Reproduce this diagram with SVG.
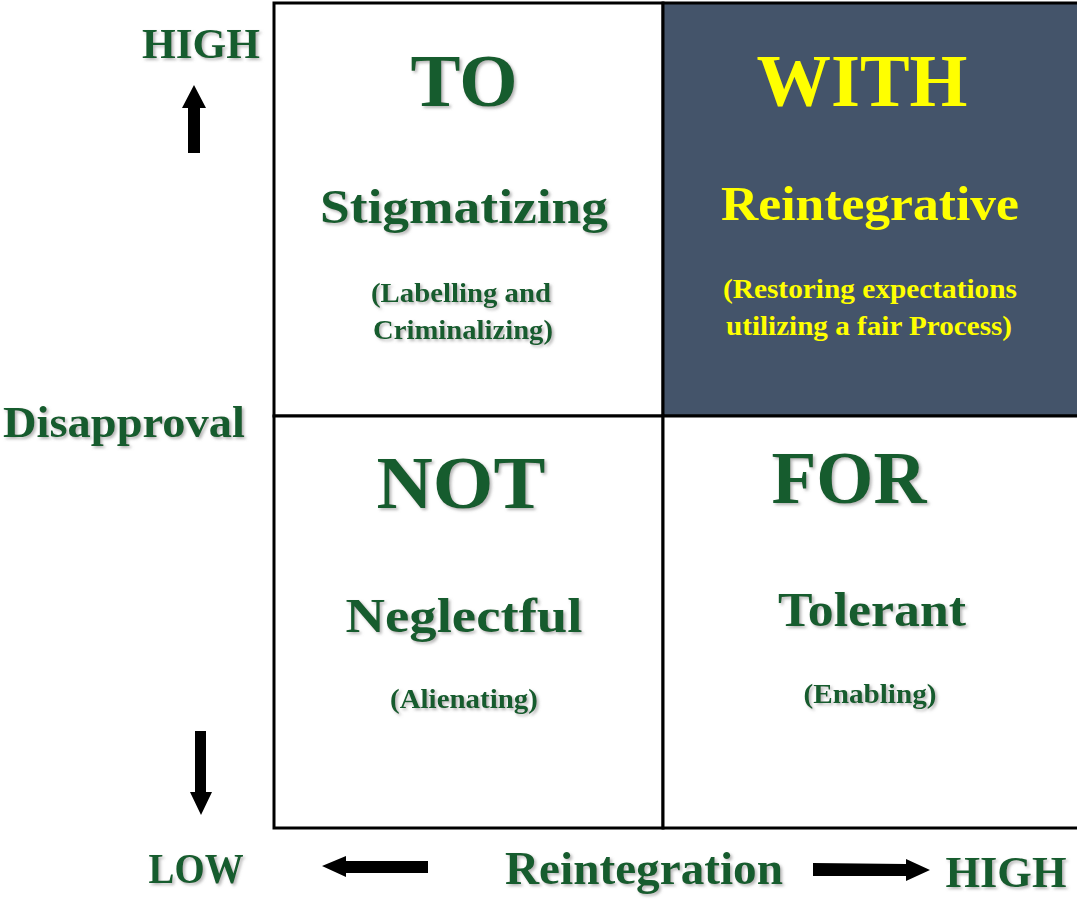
<svg xmlns="http://www.w3.org/2000/svg" width="1077" height="901" viewBox="0 0 1077 901">
<defs>
<filter id="sh" x="-10%" y="-20%" width="120%" height="150%">
<feDropShadow dx="2" dy="2" stdDeviation="1.5" flood-color="#7a7a7a" flood-opacity="0.55"/>
</filter>
<style>
text{font-family:"Liberation Serif","Times New Roman",serif;font-weight:bold;text-anchor:middle}
.g{fill:#175c2e;filter:url(#sh)}
.y{fill:#ffff00}
.cell{stroke:#000;stroke-width:3}
.arrow{fill:#000}
</style>
</defs>
<rect width="1077" height="901" fill="#fff"/>
<g id="cell-to">
<rect class="cell" x="274" y="3" width="389" height="413" fill="#fff"/>
<text class="g" x="464" y="106" font-size="74" textLength="107" lengthAdjust="spacingAndGlyphs">TO</text>
<text class="g" x="464" y="223" font-size="49" textLength="288" lengthAdjust="spacingAndGlyphs">Stigmatizing</text>
<text class="g" x="461" y="302" font-size="27" textLength="180" lengthAdjust="spacingAndGlyphs">(Labelling and</text>
<text class="g" x="463" y="339" font-size="27" textLength="180" lengthAdjust="spacingAndGlyphs">Criminalizing)</text>
</g>
<g id="cell-with">
<rect class="cell" x="663" y="3" width="416" height="413" fill="#44546a"/>
<text class="y" x="862" y="106" font-size="74" textLength="211" lengthAdjust="spacingAndGlyphs">WITH</text>
<text class="y" x="870" y="220" font-size="49" textLength="298" lengthAdjust="spacingAndGlyphs">Reintegrative</text>
<text class="y" x="870" y="298" font-size="27" textLength="294" lengthAdjust="spacingAndGlyphs">(Restoring expectations</text>
<text class="y" x="869" y="335" font-size="27" textLength="286" lengthAdjust="spacingAndGlyphs">utilizing a fair Process)</text>
</g>
<g id="cell-not">
<rect class="cell" x="274" y="416" width="389" height="412" fill="#fff"/>
<text class="g" x="461" y="508" font-size="74" textLength="169" lengthAdjust="spacingAndGlyphs">NOT</text>
<text class="g" x="464" y="632" font-size="49" textLength="237" lengthAdjust="spacingAndGlyphs">Neglectful</text>
<text class="g" x="464" y="708" font-size="27" textLength="148" lengthAdjust="spacingAndGlyphs">(Alienating)</text>
</g>
<g id="cell-for">
<rect class="cell" x="663" y="416" width="416" height="412" fill="#fff"/>
<text class="g" x="849" y="503" font-size="74" textLength="155" lengthAdjust="spacingAndGlyphs">FOR</text>
<text class="g" x="872" y="626" font-size="49" textLength="188" lengthAdjust="spacingAndGlyphs">Tolerant</text>
<text class="g" x="870" y="703" font-size="27" textLength="133" lengthAdjust="spacingAndGlyphs">(Enabling)</text>
</g>
<g id="axis-y">
<text class="g" x="201" y="58" font-size="42" textLength="118" lengthAdjust="spacingAndGlyphs">HIGH</text>
<text class="g" x="124" y="437" font-size="45" textLength="242" lengthAdjust="spacingAndGlyphs">Disapproval</text>
</g>
<g id="axis-x">
<text class="g" x="196" y="883" font-size="43" textLength="95" lengthAdjust="spacingAndGlyphs">LOW</text>
<text class="g" x="644" y="884" font-size="47" textLength="278" lengthAdjust="spacingAndGlyphs">Reintegration</text>
<text class="g" x="1006" y="887" font-size="45" textLength="121" lengthAdjust="spacingAndGlyphs">HIGH</text>
</g>
<g id="connectors">
<polygon class="arrow" points="194,85 206,108 200,108 200,153 188,153 188,108 182,108"/>
<polygon class="arrow" points="195,731 206,731 206,792 212,792 201,815 190,792 195,792"/>
<polygon class="arrow" points="322,866 346,856 346,861 428,861 428,873 346,873 346,877"/>
<polygon class="arrow" points="930,870 906,859 906,864 813,863 813,876 906,876 906,881"/>
</g>
</svg>
